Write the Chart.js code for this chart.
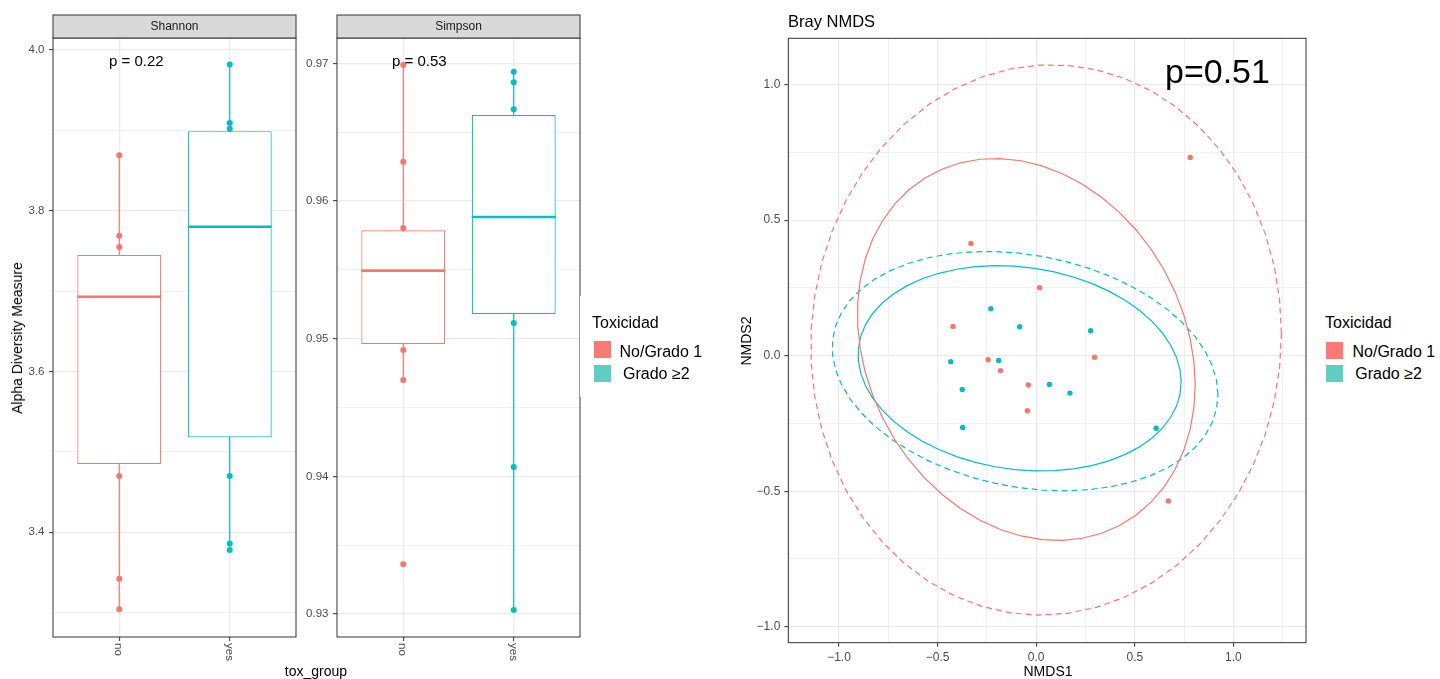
<!DOCTYPE html>
<html>
<head>
<meta charset="utf-8">
<script src="https://cdn.jsdelivr.net/npm/chart.js@4.4.0/dist/chart.umd.min.js"></script>
<style>
  body { margin: 0; background: #fff; font-family: "Liberation Sans", Arial, Helvetica, sans-serif; }
  #wrap { position: relative; width: 1440px; height: 679px; overflow: hidden; background: #fff; }
  canvas { position: absolute; top: 0; }
  .t { position: absolute; white-space: nowrap; line-height: 1; color: #000; }
  .rot { transform: translate(-50%, -50%) rotate(-90deg); }
  .legend { position: absolute; background: #fff; width: 126px; height: 101px; }
  .legend .sw { position: absolute; left: 14px; width: 17px; height: 17px; }
</style>
</head>
<body>
<div id="wrap">
  <canvas id="shannon" width="300" height="679" style="left:0px"></canvas>
  <canvas id="simpson" width="300" height="679" style="left:284px"></canvas>
  <canvas id="nmds" width="570" height="679" style="left:740px"></canvas>

  <div class="t" style="left:109px;top:53px;font-size:15px">p = 0.22</div>
  <div class="t" style="left:392px;top:53px;font-size:15px">p = 0.53</div>
  <div class="t rot" style="left:16.5px;top:338px;font-size:14px">Alpha Diversity Measure</div>
  <div class="t" style="left:316px;top:664px;font-size:14px;transform:translateX(-50%)">tox_group</div>

  <div class="t" style="left:788px;top:13px;font-size:16.5px">Bray NMDS</div>
  <div class="t" style="left:1165px;top:53.5px;font-size:34px">p=0.51</div>
  <div class="t rot" style="left:746px;top:340.5px;font-size:14px">NMDS2</div>
  <div class="t" style="left:1048px;top:664px;font-size:14px;transform:translateX(-50%)">NMDS1</div>

  <div class="legend" style="left:580px;top:296px">
    <div class="t" style="left:12px;top:19px;font-size:16px">Toxicidad</div>
    <div class="sw" style="top:45px;background:#FB7A75"></div>
    <div class="sw" style="top:69px;background:#5DCFC3"></div>
    <div class="t" style="left:39.5px;top:47.5px;font-size:16px">No/Grado 1</div>
    <div class="t" style="left:43px;top:69.5px;font-size:16px">Grado ≥2</div>
  </div>
  <div class="legend" style="left:1312px;top:296px">
    <div class="t" style="left:13px;top:19px;font-size:16px">Toxicidad</div>
    <div class="sw" style="top:45.5px;background:#FB7A75"></div>
    <div class="sw" style="top:68.5px;background:#5DCFC3"></div>
    <div class="t" style="left:40.5px;top:47.5px;font-size:16px">No/Grado 1</div>
    <div class="t" style="left:43.3px;top:69.5px;font-size:16px">Grado ≥2</div>
  </div>
</div>

<script>
// groups and colours
const groups = ['no', 'yes'];
const colors = ['#F8766D', '#00BFC4'];

// Shannon box stats
const shannonLo = [3.304, 3.378];
const shannonQ1 = [3.485, 3.518];
const shannonMed = [3.693, 3.780];
const shannonQ3 = [3.745, 3.899];
const shannonHi = [3.869, 3.982];
const shannonPtsNo = [3.869, 3.769, 3.755, 3.470, 3.342, 3.304];
const shannonPtsYes = [3.982, 3.909, 3.902, 3.470, 3.386, 3.378];
const shannonTicks = [3.4, 3.6, 3.8, 4.0];
const shannonMinor = [3.3, 3.5, 3.7, 3.9];

// Simpson box stats
const simpsonLo = [0.94700, 0.93030];
const simpsonQ1 = [0.94961, 0.95179];
const simpsonMed = [0.95494, 0.95884];
const simpsonQ3 = [0.95787, 0.96625];
const simpsonHi = [0.96988, 0.96939];
const simpsonPtsNo = [0.96988, 0.96285, 0.95804, 0.94918, 0.94700, 0.93362];
const simpsonPtsYes = [0.96939, 0.96862, 0.96666, 0.95114, 0.94068, 0.93030];
const simpsonTicks = [0.93, 0.94, 0.95, 0.96, 0.97];
const simpsonMinor = [0.935, 0.945, 0.955, 0.965];

// NMDS ordination
const nmds1No = [0.781, -0.331, 0.017, -0.422, 0.296, -0.244, -0.181, -0.040, -0.045, 0.670];
const nmds2No = [0.731, 0.414, 0.251, 0.108, -0.006, -0.015, -0.055, -0.108, -0.203, -0.536];
const nmds1Yes = [-0.230, -0.084, 0.276, -0.433, -0.190, -0.375, 0.067, 0.171, -0.373, 0.608];
const nmds2Yes = [0.173, 0.107, 0.092, -0.022, -0.018, -0.125, -0.106, -0.138, -0.265, -0.268];
const nmdsTicks = [-1, -0.5, 0, 0.5, 1];
const nmdsMinorX = [-1.25, -0.75, -0.25, 0.25, 0.75, 1.25];
const nmdsMinorY = [-0.75, -0.25, 0.25, 0.75];

const FONT = '"Liberation Sans", Arial, Helvetica, sans-serif';
const BOX_W = 0.76;
Chart.defaults.font.family = FONT;

function tickList(majors, minors) {
    return majors.map(v => ({ value: v, minor: false }))
        .concat(minors.map(v => ({ value: v, minor: true })))
        .sort((a, b) => a.value - b.value);
}

function fmtNum(v, d) {
    return v < 0 ? '\u2212' + Math.abs(v).toFixed(d) : v.toFixed(d);
}

// border, facet strip and clockwise x labels
const panelPlugin = {
    id: 'panel',
    afterDraw(chart, args, opts) {
        const { ctx, chartArea: a } = chart;
        ctx.save();
        ctx.strokeStyle = '#333333';
        ctx.lineWidth = 1;
        ctx.strokeRect(a.left, a.top, a.width, a.height);
        if (opts.strip) {
            ctx.fillStyle = '#D9D9D9';
            ctx.fillRect(a.left, a.top - 23, a.width, 23);
            ctx.strokeRect(a.left, a.top - 23, a.width, 23);
            ctx.fillStyle = '#1A1A1A';
            ctx.font = '12px ' + FONT;
            ctx.textAlign = 'center';
            ctx.textBaseline = 'middle';
            ctx.fillText(opts.strip, (a.left + a.right) / 2, a.top - 11);
        }
        if (opts.xLabels) {
            const xs = chart.scales.x;
            ctx.fillStyle = '#4D4D4D';
            ctx.font = '11.5px ' + FONT;
            ctx.textAlign = 'left';
            ctx.textBaseline = 'middle';
            opts.xLabels.forEach((lab, i) => {
                ctx.save();
                ctx.translate(xs.getPixelForValue(i + 1) - 1, a.bottom + 6);
                ctx.rotate(Math.PI / 2);
                ctx.fillText(lab, 0, 0);
                ctx.restore();
            });
        }
        ctx.restore();
    }
};

function gridOpts() {
    return {
        color: '#EBEBEB',
        lineWidth: c => (c.tick && c.tick.minor ? 0.7 : 1.3),
        tickLength: 4,
        tickWidth: 1,
        tickColor: c => (c.tick && c.tick.minor ? 'rgba(0,0,0,0)' : '#333333')
    };
}

function boxChart(id, strip, lo, q1, med, q3, hi, pts, yMin, yMax, majors, minors, digits) {
    const ds = [];
    groups.forEach((g, i) => {
        const x = i + 1;
        ds.push({ type: 'line', data: [{ x: x, y: lo[i] }, { x: x, y: hi[i] }],
            borderColor: colors[i], borderWidth: 1.2, pointRadius: 0, order: 3 });
        ds.push({ type: 'scatter', data: pts[i].map(y => ({ x: x, y: y })),
            backgroundColor: colors[i], borderWidth: 0, pointRadius: 3, order: 2 });
        ds.push({ type: 'line', data: [{ x: x - BOX_W / 2, y: med[i] }, { x: x + BOX_W / 2, y: med[i] }],
            borderColor: colors[i], borderWidth: 2.6, pointRadius: 0, order: 0 });
    });
    ds.push({
        type: 'bar',
        data: groups.map((g, i) => ({ x: i + 1, y: [q1[i], q3[i]] })),
        backgroundColor: '#ffffff',
        borderColor: colors,
        borderWidth: 1.2,
        borderSkipped: false,
        barPercentage: BOX_W,
        categoryPercentage: 1,
        order: 1
    });

    new Chart(document.getElementById(id), {
        type: 'bar',
        data: { datasets: ds },
        plugins: [panelPlugin],
        options: {
            responsive: false,
            animation: false,
            devicePixelRatio: 1,
            events: [],
            layout: { padding: { top: 38, right: 2, left: 0, bottom: 0 } },
            plugins: {
                legend: { display: false },
                tooltip: { enabled: false },
                panel: { strip: strip, xLabels: groups }
            },
            scales: {
                x: {
                    type: 'linear',
                    offset: false,
                    min: 0.4,
                    max: 2.6,
                    afterBuildTicks: s => { s.ticks = [{ value: 1 }, { value: 2 }]; },
                    afterFit: s => { s.height = 42; },
                    ticks: { display: false },
                    grid: { offset: false, color: '#EBEBEB', lineWidth: 1.3, tickLength: 4, tickWidth: 1, tickColor: '#333333' },
                    border: { display: false }
                },
                y: {
                    min: yMin,
                    max: yMax,
                    afterBuildTicks: s => { s.ticks = tickList(majors, minors); },
                    afterFit: s => { s.width = 53; },
                    ticks: {
                        color: '#4D4D4D',
                        font: { size: 11.5 },
                        padding: 4.5,
                        callback: (v, i, t) => (t[i].minor ? '' : fmtNum(v, digits))
                    },
                    grid: gridOpts(),
                    border: { display: false }
                }
            }
        }
    });
}

boxChart('shannon', 'Shannon', shannonLo, shannonQ1, shannonMed, shannonQ3, shannonHi,
    [shannonPtsNo, shannonPtsYes], 3.2696, 4.0149, shannonTicks, shannonMinor, 1);
boxChart('simpson', 'Simpson', simpsonLo, simpsonQ1, simpsonMed, simpsonQ3, simpsonHi,
    [simpsonPtsNo, simpsonPtsYes], 0.92833, 0.97184, simpsonTicks, simpsonMinor, 2);

// stat_ellipse: type "norm" (cov.wt) and type "t" (MASS::cov.trob)
function sum(a) { return a.reduce((s, v) => s + v, 0); }

function covNorm(xs, ys) {
    const n = xs.length, mx = sum(xs) / n, my = sum(ys) / n;
    let a = 0, b = 0, c = 0;
    for (let i = 0; i < n; i++) {
        const u = xs[i] - mx, v = ys[i] - my;
        a += u * u; b += u * v; c += v * v;
    }
    return { cx: mx, cy: my, sxx: a / (n - 1), sxy: b / (n - 1), syy: c / (n - 1) };
}

function covTrob(xs, ys, nu = 5, maxit = 25, tol = 0.01) {
    const n = xs.length, p = 2;
    let lx = sum(xs) / n, ly = sum(ys) / n;
    let w = xs.map(() => 1);
    let dx = [], dy = [];
    for (let it = 0; it < maxit; it++) {
        const w0 = w.slice();
        dx = xs.map(v => v - lx);
        dy = ys.map(v => v - ly);
        const sw = sum(w);
        let a = 0, b = 0, c = 0;
        for (let i = 0; i < n; i++) {
            const f = w[i] / sw;
            a += f * dx[i] * dx[i]; b += f * dx[i] * dy[i]; c += f * dy[i] * dy[i];
        }
        const det = a * c - b * b;
        const q = dx.map((u, i) => (c * u * u - 2 * b * u * dy[i] + a * dy[i] * dy[i]) / det);
        w = q.map(v => (nu + p) / (nu + v));
        const sw2 = sum(w);
        lx = sum(xs.map((v, i) => v * w[i])) / sw2;
        ly = sum(ys.map((v, i) => v * w[i])) / sw2;
        if (w.every((v, i) => Math.abs(v - w0[i]) < tol)) break;
    }
    let a = 0, b = 0, c = 0;
    for (let i = 0; i < n; i++) {
        a += w[i] * dx[i] * dx[i]; b += w[i] * dx[i] * dy[i]; c += w[i] * dy[i] * dy[i];
    }
    return { cx: lx, cy: ly, sxx: a / n, sxy: b / n, syy: c / n };
}

function ellipse(cv, n, level = 0.95, segments = 51) {
    const dfd = n - 1;
    const fq = dfd / 2 * (Math.pow(1 - level, -2 / dfd) - 1);
    const r = Math.sqrt(2 * fq);
    const a = Math.sqrt(cv.sxx), b = cv.sxy / a, d = Math.sqrt(cv.syy - b * b);
    const out = [];
    for (let k = 0; k <= segments; k++) {
        const t = k * 2 * Math.PI / segments;
        out.push({ x: cv.cx + r * a * Math.cos(t), y: cv.cy + r * (b * Math.cos(t) + d * Math.sin(t)) });
    }
    return out;
}

function ellipseDs(pts, col, dashed) {
    return { type: 'scatter', showLine: true, data: pts, borderColor: col, borderWidth: 1.2,
        borderDash: dashed ? [6, 4] : [], pointRadius: 0, fill: false, order: 1 };
}

new Chart(document.getElementById('nmds'), {
    type: 'scatter',
    data: {
        datasets: [
            ellipseDs(ellipse(covTrob(nmds1No, nmds2No), nmds1No.length), colors[0], false),
            ellipseDs(ellipse(covNorm(nmds1No, nmds2No), nmds1No.length), colors[0], true),
            ellipseDs(ellipse(covTrob(nmds1Yes, nmds2Yes), nmds1Yes.length), colors[1], false),
            ellipseDs(ellipse(covNorm(nmds1Yes, nmds2Yes), nmds1Yes.length), colors[1], true),
            { data: nmds1No.map((x, i) => ({ x: x, y: nmds2No[i] })), backgroundColor: colors[0],
              borderWidth: 0, pointRadius: 2.7, order: 0 },
            { data: nmds1Yes.map((x, i) => ({ x: x, y: nmds2Yes[i] })), backgroundColor: colors[1],
              borderWidth: 0, pointRadius: 2.7, order: 0 }
        ]
    },
    plugins: [panelPlugin],
    options: {
        responsive: false,
        animation: false,
        devicePixelRatio: 1,
        events: [],
        layout: { padding: { top: 38.3, right: 1.3, left: 0, bottom: 0 } },
        plugins: { legend: { display: false }, tooltip: { enabled: false }, panel: {} },
        scales: {
            x: {
                type: 'linear',
                min: -1.257,
                max: 1.368,
                afterBuildTicks: s => { s.ticks = tickList(nmdsTicks, nmdsMinorX); },
                afterFit: s => { s.height = 36.3; },
                ticks: {
                    color: '#4D4D4D',
                    font: { size: 12 },
                    padding: 3.5,
                    maxRotation: 0,
                    autoSkip: false,
                    callback: (v, i, t) => (t[i].minor ? '' : fmtNum(v, 1))
                },
                grid: gridOpts(),
                border: { display: false }
            },
            y: {
                min: -1.059,
                max: 1.171,
                afterBuildTicks: s => { s.ticks = tickList(nmdsTicks, nmdsMinorY); },
                afterFit: s => { s.width = 48.3; },
                ticks: {
                    color: '#4D4D4D',
                    font: { size: 12 },
                    padding: 4,
                    autoSkip: false,
                    callback: (v, i, t) => (t[i].minor ? '' : fmtNum(v, 1))
                },
                grid: gridOpts(),
                border: { display: false }
            }
        }
    }
});
</script>
</body>
</html>
